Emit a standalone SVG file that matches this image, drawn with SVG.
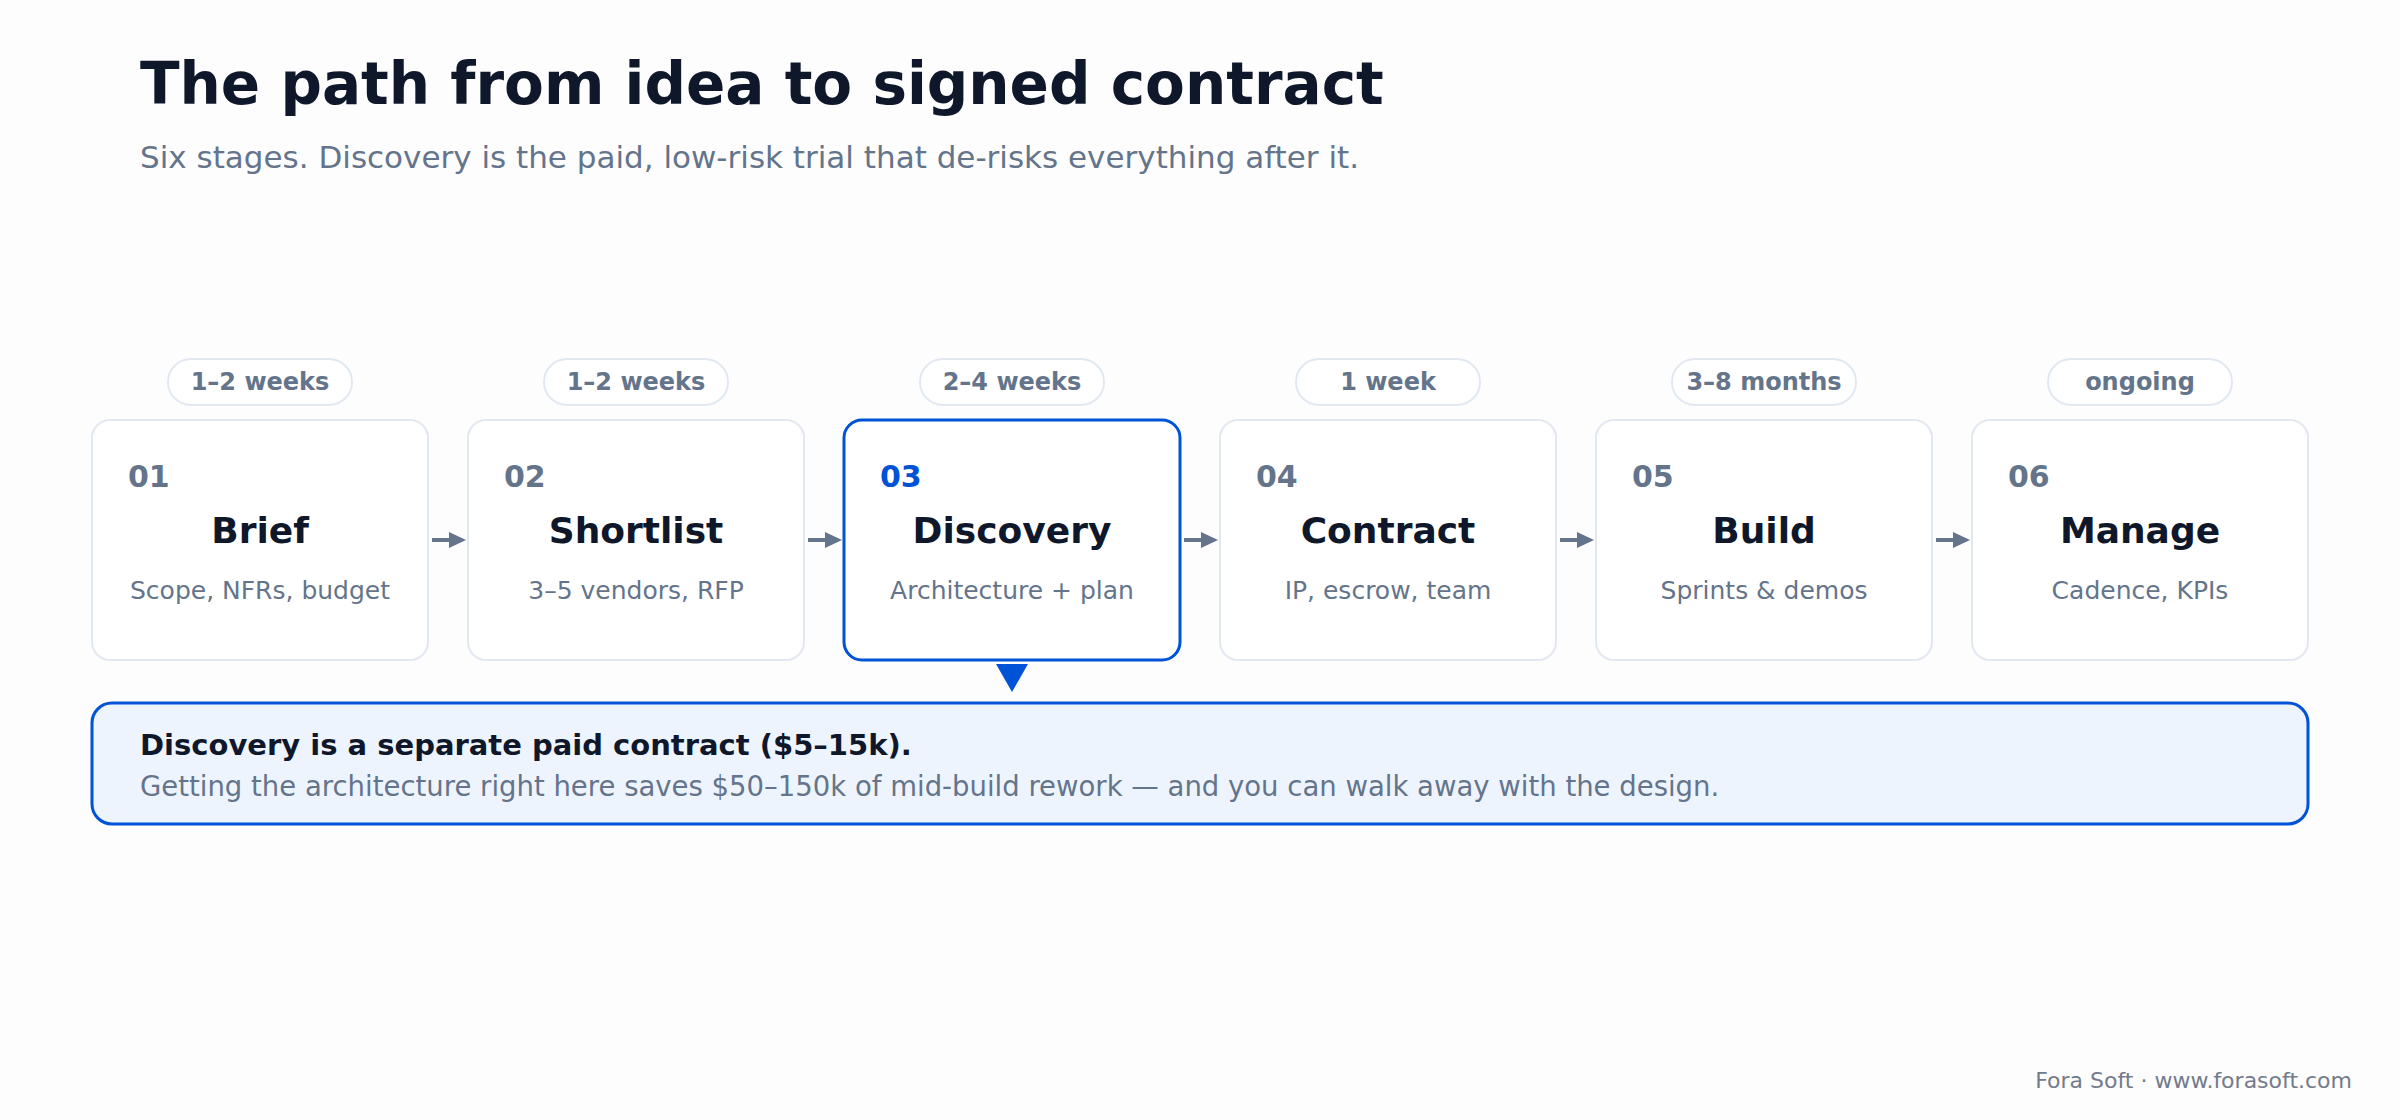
<svg xmlns="http://www.w3.org/2000/svg" width="2400" height="1120" viewBox="0 0 2400 1120">
<defs>
<style>
text{font-family:"DejaVu Sans","Liberation Sans",sans-serif}
.title{font-size:58px;font-weight:bold;fill:#0f172a}
.subtitle{font-size:31px;fill:#64748b}
.pill{fill:#ffffff;stroke:#e2e8f0;stroke-width:2}
.pilltxt{font-size:24px;font-weight:bold;fill:#64748b;text-anchor:middle}
.card{fill:#ffffff;stroke:#e2e8f0;stroke-width:2}
.card.hl{stroke:#0052d6;stroke-width:3}
.num{font-size:30px;font-weight:bold;fill:#64748b}
.num.hl{fill:#0052d6}
.name{font-size:36px;font-weight:bold;fill:#0f172a;text-anchor:middle}
.desc{font-size:25px;fill:#64748b;text-anchor:middle}
.conn{stroke:#64748b;stroke-width:4;fill:none}
.bannertitle{font-size:29px;font-weight:bold;fill:#0f172a}
.bannertxt{font-size:27.5px;fill:#64748b}
.footer{font-size:22px;fill:#737b8c;text-anchor:end}
</style>
<marker id="arrow" markerUnits="userSpaceOnUse" viewBox="0 0 17 16" refX="1" refY="8" markerWidth="17" markerHeight="16" orient="auto">
<path d="M0,0 L17,8 L0,16 Z" fill="#64748b"/>
</marker>
</defs>
<rect x="0" y="0" width="2400" height="1120" fill="#fdfdfd"/>
<g id="header">
<text class="title" x="140" y="104">The path from idea to signed contract</text>
<text class="subtitle" x="140" y="168">Six stages. Discovery is the paid, low-risk trial that de-risks everything after it.</text>
</g>
<g id="connectors">
<line class="conn" x1="432" y1="540" x2="450" y2="540" marker-end="url(#arrow)"/>
<line class="conn" x1="808" y1="540" x2="826" y2="540" marker-end="url(#arrow)"/>
<line class="conn" x1="1184" y1="540" x2="1202" y2="540" marker-end="url(#arrow)"/>
<line class="conn" x1="1560" y1="540" x2="1578" y2="540" marker-end="url(#arrow)"/>
<line class="conn" x1="1936" y1="540" x2="1954" y2="540" marker-end="url(#arrow)"/>
</g>
<g id="stage-01">
<rect class="pill" x="168" y="359" width="184" height="46" rx="23"/>
<text class="pilltxt" x="260" y="390">1–2 weeks</text>
<rect class="card" x="92" y="420" width="336" height="240" rx="18"/>
<text class="num" x="128" y="487">01</text>
<text class="name" x="260" y="543">Brief</text>
<text class="desc" x="260" y="599">Scope, NFRs, budget</text>
</g>
<g id="stage-02">
<rect class="pill" x="544" y="359" width="184" height="46" rx="23"/>
<text class="pilltxt" x="636" y="390">1–2 weeks</text>
<rect class="card" x="468" y="420" width="336" height="240" rx="18"/>
<text class="num" x="504" y="487">02</text>
<text class="name" x="636" y="543">Shortlist</text>
<text class="desc" x="636" y="599">3–5 vendors, RFP</text>
</g>
<g id="stage-03">
<rect class="pill" x="920" y="359" width="184" height="46" rx="23"/>
<text class="pilltxt" x="1012" y="390">2–4 weeks</text>
<rect class="card hl" x="844" y="420" width="336" height="240" rx="18"/>
<text class="num hl" x="880" y="487">03</text>
<text class="name" x="1012" y="543">Discovery</text>
<text class="desc" x="1012" y="599">Architecture + plan</text>
<polygon points="996,664 1028,664 1012,692" fill="#0052d6"/>
</g>
<g id="stage-04">
<rect class="pill" x="1296" y="359" width="184" height="46" rx="23"/>
<text class="pilltxt" x="1388" y="390">1 week</text>
<rect class="card" x="1220" y="420" width="336" height="240" rx="18"/>
<text class="num" x="1256" y="487">04</text>
<text class="name" x="1388" y="543">Contract</text>
<text class="desc" x="1388" y="599">IP, escrow, team</text>
</g>
<g id="stage-05">
<rect class="pill" x="1672" y="359" width="184" height="46" rx="23"/>
<text class="pilltxt" x="1764" y="390">3–8 months</text>
<rect class="card" x="1596" y="420" width="336" height="240" rx="18"/>
<text class="num" x="1632" y="487">05</text>
<text class="name" x="1764" y="543">Build</text>
<text class="desc" x="1764" y="599">Sprints &amp; demos</text>
</g>
<g id="stage-06">
<rect class="pill" x="2048" y="359" width="184" height="46" rx="23"/>
<text class="pilltxt" x="2140" y="390">ongoing</text>
<rect class="card" x="1972" y="420" width="336" height="240" rx="18"/>
<text class="num" x="2008" y="487">06</text>
<text class="name" x="2140" y="543">Manage</text>
<text class="desc" x="2140" y="599">Cadence, KPIs</text>
</g>
<g id="discovery-note">
<rect x="92" y="703" width="2216" height="121" rx="20" fill="#eef4fe" stroke="#0052d6" stroke-width="3"/>
<text class="bannertitle" x="140" y="755">Discovery is a separate paid contract ($5–15k).</text>
<text class="bannertxt" x="140" y="796">Getting the architecture right here saves $50–150k of mid-build rework — and you can walk away with the design.</text>
</g>
<g id="footer">
<text class="footer" x="2352" y="1088">Fora Soft · www.forasoft.com</text>
</g>
</svg>
